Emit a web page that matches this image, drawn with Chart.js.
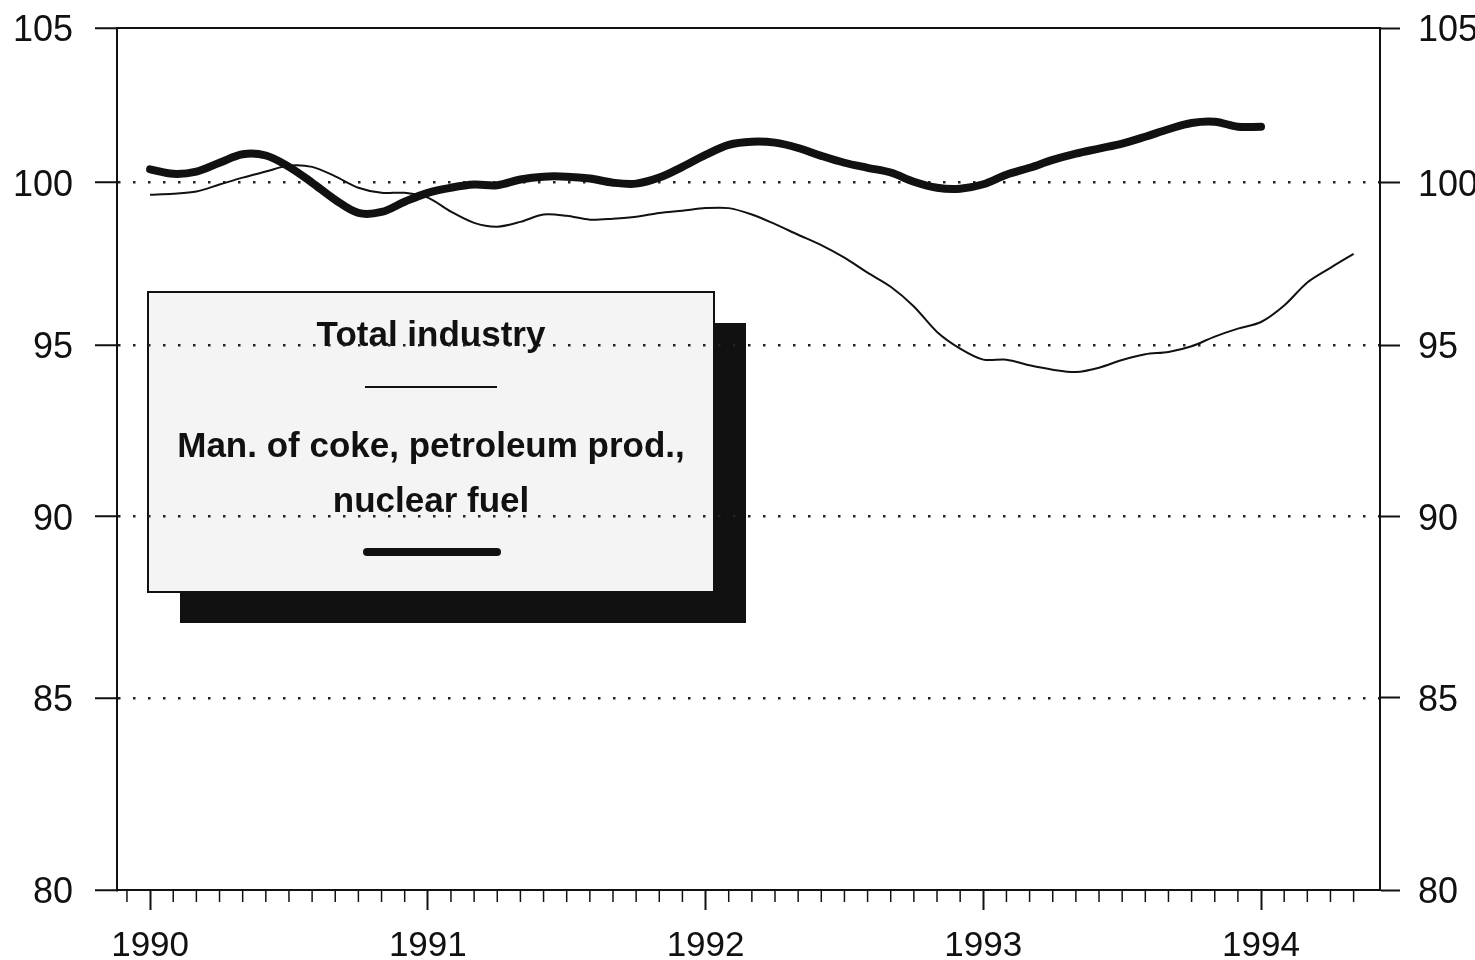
<!DOCTYPE html>
<html>
<head>
<meta charset="utf-8">
<title>Total industry vs coke, petroleum prod., nuclear fuel</title>
<script src="https://cdn.jsdelivr.net/npm/chart.js@4.4.1/dist/chart.umd.min.js"></script>
<style>
  html, body { margin: 0; padding: 0; background: #fff; }
  #wrap { width: 1475px; height: 960px; }
</style>
</head>
<body>
<div id="wrap"><canvas id="chart" width="1475" height="960"></canvas></div>
<script>
// x values are months counted from January 1990 (0 = Jan 1990)
const yearLabels = ['1990', '1991', '1992', '1993', '1994'];
const yTicks = [80, 85, 90, 95, 100, 105];
const seriesNames = ['Total industry', 'Man. of coke, petroleum prod., nuclear fuel'];
const legendLines = [['Total industry'], ['Man. of coke, petroleum prod.,', 'nuclear fuel']];

const totalIndustry = [
    99.62, 99.65, 99.72, 99.94, 100.16, 100.35, 100.54, 100.5, 100.2, 99.84,
    99.68, 99.68, 99.53, 99.09, 98.74, 98.62, 98.77, 99.0, 98.96, 98.84,
    98.87, 98.93, 99.05, 99.12, 99.2, 99.2, 99.0, 98.7, 98.37, 98.05,
    97.66, 97.2, 96.77, 96.17, 95.4, 94.9, 94.57, 94.57, 94.4, 94.27,
    94.2, 94.33, 94.56, 94.73, 94.8, 94.97, 95.26, 95.5, 95.7, 96.2,
    96.9, 97.35, 97.78
];
const cokePetroleum = [
    100.42, 100.28, 100.35, 100.63, 100.9, 100.86, 100.5, 100.0, 99.46, 99.05,
    99.08, 99.4, 99.68, 99.84, 99.94, 99.92, 100.1, 100.19, 100.19, 100.13,
    100.0, 99.97, 100.16, 100.5, 100.88, 101.2, 101.3, 101.27, 101.1, 100.85,
    100.63, 100.47, 100.32, 100.03, 99.84, 99.81, 99.95, 100.25, 100.47, 100.72,
    100.92, 101.08, 101.24, 101.46, 101.7, 101.9, 101.94, 101.78, 101.78
];

const ink = '#111';
const fontFam = '"Liberation Sans", Arial, Helvetica, sans-serif';
const tickFont = { family: fontFam, size: 36 };

function toPoints(values) {
    return values.map((v, i) => ({ x: i, y: v }));
}

// fixed axis sizes so the plot frame lands where the original one is
function fixSize(prop, size) {
    return s => {
        s[prop] = size;
        s.paddingTop = 0;
        s.paddingBottom = 0;
        s.paddingLeft = 0;
        s.paddingRight = 0;
    };
}

// legend box with drop shadow, drawn before the grid so dots run through it
const legendBox = {
    id: 'legendBox',
    beforeDraw(chart) {
        const ctx = chart.ctx;
        const a = chart.chartArea;
        const bx = a.left + 31, by = a.top + 264, bw = 566, bh = 300;
        ctx.save();
        ctx.fillStyle = '#fff';
        ctx.fillRect(0, 0, chart.width, chart.height);
        ctx.fillStyle = ink;
        ctx.fillRect(bx + 32, by + 31, bw, bh);
        ctx.fillStyle = '#f4f4f4';
        ctx.fillRect(bx, by, bw, bh);
        ctx.strokeStyle = ink;
        ctx.lineWidth = 2;
        ctx.strokeRect(bx, by, bw, bh);

        const cx = bx + bw / 2;
        ctx.fillStyle = ink;
        ctx.textAlign = 'center';
        ctx.textBaseline = 'middle';
        ctx.font = 'bold 35px ' + fontFam;
        ctx.fillText(legendLines[0][0], cx, by + 44);
        ctx.beginPath();
        ctx.lineWidth = 2;
        ctx.moveTo(cx - 66, by + 95);
        ctx.lineTo(cx + 66, by + 95);
        ctx.stroke();
        ctx.fillText(legendLines[1][0], cx, by + 155);
        ctx.fillText(legendLines[1][1], cx, by + 210);
        ctx.beginPath();
        ctx.lineWidth = 8;
        ctx.lineCap = 'round';
        ctx.moveTo(cx - 64, by + 260);
        ctx.lineTo(cx + 66, by + 260);
        ctx.stroke();
        ctx.restore();
    },
    afterDraw(chart) {
        const ctx = chart.ctx;
        const a = chart.chartArea;
        const xs = chart.scales.x;
        ctx.save();
        ctx.strokeStyle = ink;
        // top frame line
        ctx.lineWidth = 2;
        ctx.beginPath();
        ctx.moveTo(a.left, a.top);
        ctx.lineTo(a.right, a.top);
        ctx.stroke();
        // monthly minor ticks
        ctx.lineWidth = 1.5;
        for (let m = -1; m <= 52; m++) {
            if (m % 12 === 0) continue;
            const px = xs.getPixelForValue(m);
            ctx.beginPath();
            ctx.moveTo(px, a.bottom);
            ctx.lineTo(px, a.bottom + 12);
            ctx.stroke();
        }
        ctx.restore();
    }
};

const hideEdges = ctx => (ctx.tick && (ctx.tick.value === 80 || ctx.tick.value === 105)) ? 'rgba(0,0,0,0)' : '#222';

new Chart(document.getElementById('chart'), {
    type: 'line',
    data: {
        datasets: [
            {
                label: seriesNames[1],
                data: toPoints(cokePetroleum),
                borderColor: ink,
                borderWidth: 8,
                borderCapStyle: 'round',
                borderJoinStyle: 'round',
                pointRadius: 0,
                tension: 0.35,
                order: 0
            },
            {
                label: seriesNames[0],
                data: toPoints(totalIndustry),
                borderColor: ink,
                borderWidth: 2,
                pointRadius: 0,
                tension: 0.3,
                order: 1
            }
        ]
    },
    options: {
        responsive: false,
        animation: false,
        devicePixelRatio: 1,
        layout: { autoPadding: false, padding: { top: 28, left: 0, right: 0, bottom: 0 } },
        plugins: {
            legend: { display: false },
            tooltip: { enabled: false }
        },
        scales: {
            x: {
                type: 'linear',
                min: -1.43,
                max: 53.14,
                afterBuildTicks: s => { s.ticks = yearLabels.map((_, i) => ({ value: i * 12 })); },
                ticks: {
                    callback: (v, i) => yearLabels[i],
                    font: { family: fontFam, size: 35 },
                    color: ink,
                    padding: 15,
                    maxRotation: 0,
                    autoSkip: false
                },
                grid: { drawOnChartArea: false, tickLength: 20, tickWidth: 2, tickColor: ink },
                border: { color: ink, width: 2 },
                afterFit: fixSize('height', 70)
            },
            y: {
                type: 'logarithmic',
                position: 'left',
                min: 80,
                max: 105,
                afterBuildTicks: s => { s.ticks = yTicks.map(v => ({ value: v })); },
                ticks: { callback: v => String(v), font: tickFont, color: ink, padding: 22, labelOffset: 3 },
                grid: { color: hideEdges, lineWidth: 2.5, tickLength: 22, tickColor: ink, tickWidth: 2 },
                border: { color: ink, width: 2, dash: [2.5, 12.5] },
                afterFit: fixSize('width', 117)
            },
            y2: {
                type: 'logarithmic',
                position: 'right',
                min: 80,
                max: 105,
                afterBuildTicks: s => { s.ticks = yTicks.map(v => ({ value: v })); },
                ticks: { callback: v => String(v), font: tickFont, color: ink, padding: 18, labelOffset: 3 },
                grid: { drawOnChartArea: false, tickLength: 20, tickColor: ink, tickWidth: 2 },
                border: { color: ink, width: 2 },
                afterFit: fixSize('width', 95)
            }
        }
    },
    plugins: [legendBox]
});
</script>
</body>
</html>
